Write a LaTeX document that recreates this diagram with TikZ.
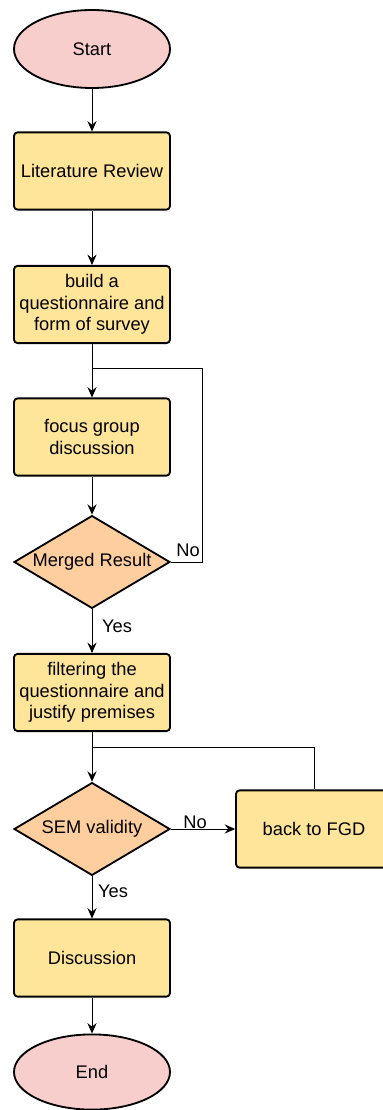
\documentclass[tikz,border=0pt]{standalone}
\usepackage{fontspec}
\setmainfont{Liberation Sans}
\usetikzlibrary{shapes.geometric,arrows.meta}
\definecolor{pinkfill}{HTML}{F8CECC}
\definecolor{boxfill}{HTML}{FFE599}
\definecolor{decfill}{HTML}{FFCE9F}
\tikzset{
  term/.style={ellipse, draw, line width=1.3pt, fill=pinkfill, minimum width=3.9cm, minimum height=1.95cm},
  stepbox/.style={rectangle, rounded corners=2.5pt, draw, line width=1.3pt, fill=boxfill, minimum width=3.9cm, minimum height=1.93cm, align=center, inner sep=1pt},
  decide/.style={diamond, aspect=1.68, draw, line width=1.3pt, fill=decfill, minimum width=3.9cm, minimum height=2.32cm, inner sep=0pt},
  lbl/.style={font=\fontsize{13}{15}\selectfont, inner sep=0pt}
}
\begin{document}
\begin{tikzpicture}[font=\fontsize{13}{15.2}\selectfont, line width=0.7pt, >={Stealth[length=2.6mm, width=2.3mm, inset=0.9mm]}]
            \useasboundingbox (0,0) rectangle (9.55,-27.75);
            \node[term] (S) at (2.3,-1.225) {Start};
            \node[stepbox] (L) at (2.3,-4.275) {Literature Review};
            \node[stepbox] (Q) at (2.3,-7.6125) {build a\\questionnaire and\\form of survey};
            \node[stepbox] (F) at (2.3,-10.925) {focus group\\discussion};
            \node[decide] (M) at (2.3,-14.05) {Merged Result};
            \node[stepbox] (P) at (2.3,-17.3125) {filtering the\\questionnaire and\\justify premises};
            \node[decide] (V) at (2.3,-20.725) {SEM validity};
            \node[stepbox] (B) at (7.85,-20.725) {back to FGD};
            \node[stepbox] (D) at (2.3,-23.95) {Discussion};
            \node[term, minimum height=1.88cm] (E) at (2.3,-26.8) {End};
            \coordinate (J1) at (2.3,-9.2);
            \coordinate (C1) at (5.05,-9.2);
            \coordinate (J2) at (2.3,-18.675);
            \coordinate (C2) at (7.85,-18.675);
            \draw[->] (S) to (L);
            \draw[->] (L) to (Q);
            \draw[->] (Q) to (F);
            \draw[->] (F) to (M);
            \draw (M.east) -| (C1) -- (J1);
            \node[lbl] (no1) at (4.7,-13.75) {No};
            \draw[->] (M) to (P);
            \node[lbl] (yes1) at (2.925,-15.65) {Yes};
            \draw[->] (P) to (V);
            \draw[->] (V) to (B);
            \node[lbl] (no2) at (4.875,-20.55) {No};
            \draw (B.north) -- (C2) -- (J2);
            \draw[->] (V) to (D);
            \node[lbl] (yes2) at (2.825,-22.275) {Yes};
            \draw[->] (D) to (E);
        \end{tikzpicture}
\end{document}
